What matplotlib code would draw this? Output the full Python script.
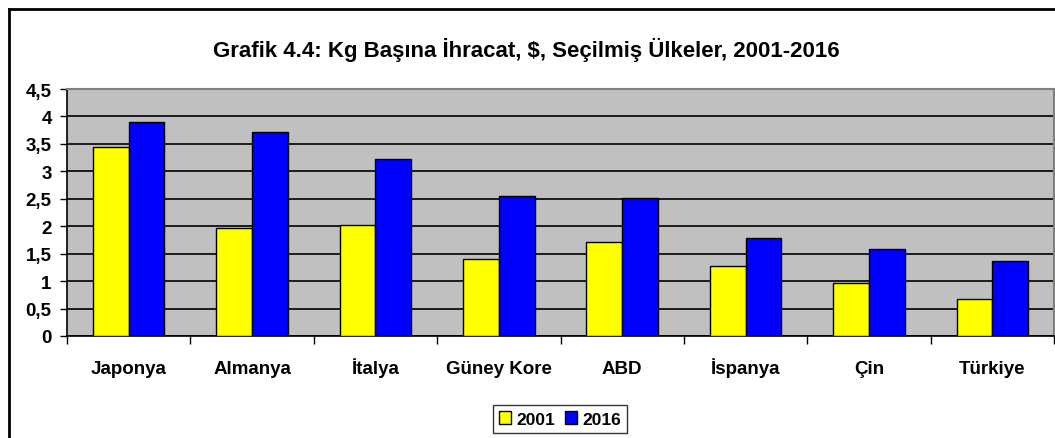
"""Grafik 4.4: Kg başına ihracat"""
import matplotlib.pyplot as plt
from matplotlib.lines import Line2D
from matplotlib.transforms import blended_transform_factory
import numpy as np

countries = ["Japonya", "Almanya", "İtalya", "Güney Kore", "ABD",
             "İspanya", "Çin", "Türkiye"]
values_2001 = [3.45, 1.97, 2.03, 1.41, 1.72, 1.27, 0.96, 0.68]
values_2016 = [3.89, 3.72, 3.22, 2.55, 2.52, 1.78, 1.58, 1.36]
series_labels = ["2001", "2016"]
y_ticks = [0, 0.5, 1, 1.5, 2, 2.5, 3, 3.5, 4, 4.5]
y_tick_labels = ["0", "0,5", "1", "1,5", "2", "2,5", "3", "3,5", "4", "4,5"]

plt.rcParams['font.family'] = ['Liberation Sans', 'DejaVu Sans']
plt.rcParams['font.weight'] = 'bold'

W, H = 1055, 439
fig = plt.figure(figsize=(W / 100, H / 100), dpi=100)
ax = fig.add_axes([67 / W, 1 - 337 / H, (1054 - 67) / W, (337 - 90) / H])

x = np.arange(len(countries))
bw = 0.29
ax.bar(x - bw / 2, values_2001, bw, color="#FFFF00", edgecolor="black",
       linewidth=1, label=series_labels[0], zorder=3)
ax.bar(x + bw / 2, values_2016, bw, color="#0000FF", edgecolor="black",
       linewidth=1, label=series_labels[1], zorder=3)

ax.set_facecolor("#C0C0C0")
ax.set_xlim(-0.5, len(countries) - 0.5)
ax.set_ylim(0, 4.5)
ax.set_yticks(y_ticks)
ax.set_yticklabels(y_tick_labels, fontsize=13.5, fontweight="bold")
ax.yaxis.grid(True, color="black", linewidth=1.2, zorder=1)
ax.set_axisbelow(True)

# étiquettes des pays alignées sur la ligne de base
ax.set_xticks(x)
ax.set_xticklabels([])
ax.tick_params(axis="x", length=0)
trans = blended_transform_factory(ax.transData, fig.transFigure)
for xi, name in zip(x, countries):
    ax.text(xi, 1 - 374 / H, name, transform=trans, ha="center",
            va="baseline", fontsize=13.5, fontweight="bold")

ax.set_xticks(np.arange(len(countries) + 1) - 0.5, minor=True)
ax.tick_params(axis="x", which="minor", length=6, width=1, direction="out")
ax.tick_params(axis="y", length=5, width=1, pad=6)

for side in ("top", "right"):
    ax.spines[side].set_color("#808080")
    ax.spines[side].set_linewidth(1.5)
for side in ("left", "bottom"):
    ax.spines[side].set_color("black")
    ax.spines[side].set_linewidth(1.2)

fig.text(526 / W, 1 - 50 / H,
         "Grafik 4.4: Kg Başına İhracat, $, Seçilmiş Ülkeler, 2001-2016",
         ha="center", va="center", fontsize=16, fontweight="bold")

leg = ax.legend(loc="center", bbox_to_anchor=(560 / W, 1 - 420 / H),
                bbox_transform=fig.transFigure, ncol=2, fontsize=12.5,
                frameon=True, fancybox=False, handlelength=0.7,
                handleheight=0.7, handletextpad=0.3, columnspacing=0.6,
                borderpad=0.35)
leg.get_frame().set_edgecolor("black")
leg.get_frame().set_linewidth(1)

# cadre extérieur du graphique
fig.add_artist(Line2D([9 / W, 9 / W], [0, 1 - 10 / H], color="black",
                      linewidth=2, transform=fig.transFigure))
fig.add_artist(Line2D([9 / W, 1], [1 - 10 / H, 1 - 10 / H], color="black",
                      linewidth=2, transform=fig.transFigure))

fig.savefig("out.png", dpi=100)
